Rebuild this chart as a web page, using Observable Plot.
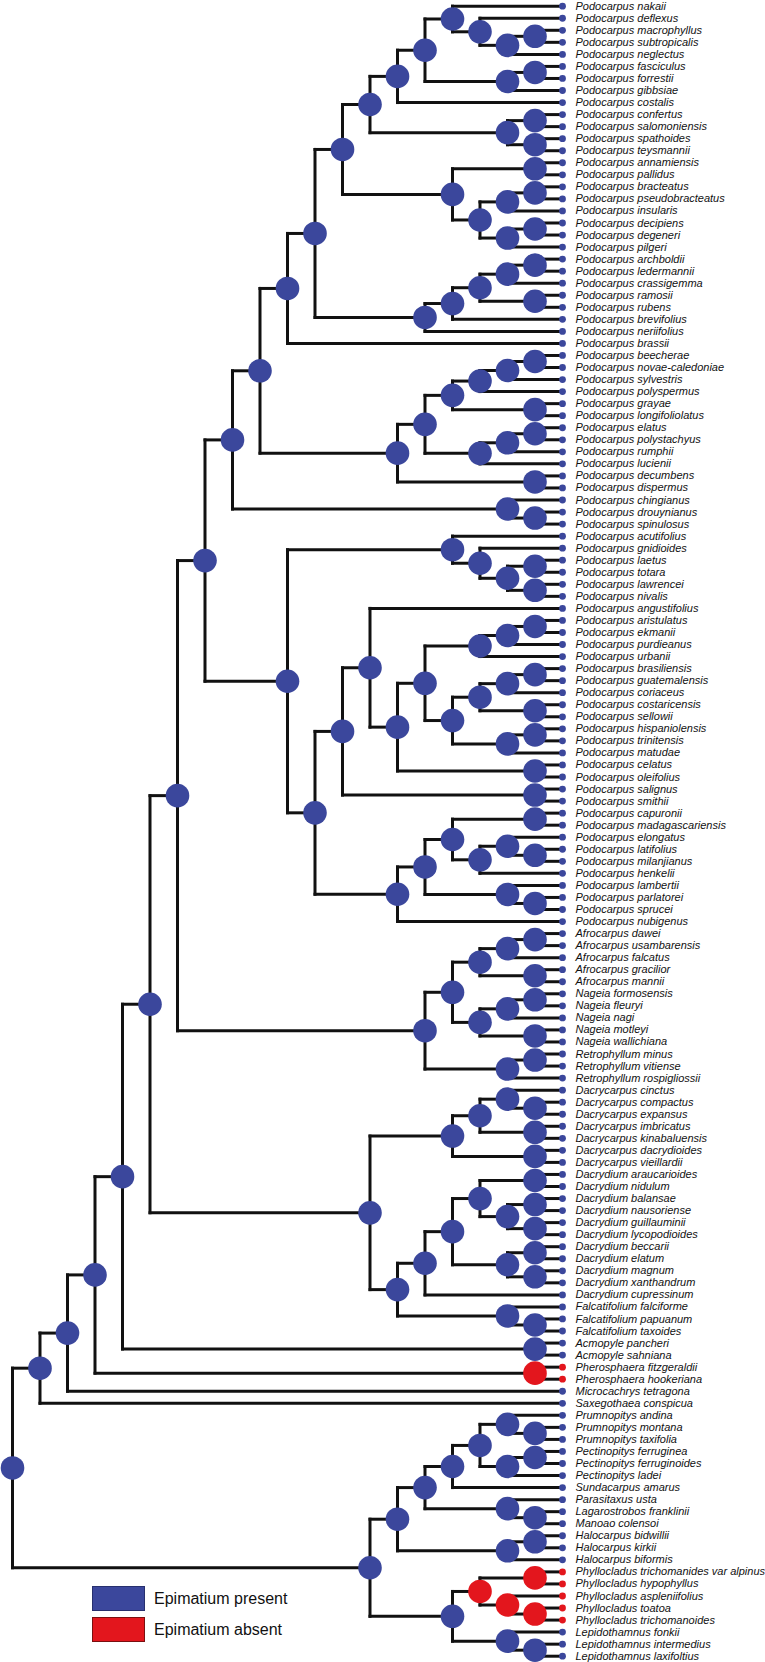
<!DOCTYPE html>
<html><head><meta charset="utf-8">
<script src="https://cdn.jsdelivr.net/npm/d3@7"></script>
<script src="https://cdn.jsdelivr.net/npm/@observablehq/plot@0.6"></script>
<style>
body{margin:0;background:#fff;}
#wrap{position:relative;width:765px;height:1662px;font-family:"Liberation Sans",Arial,sans-serif;}
.legend{position:absolute;left:92px;top:1586px;}
.item{display:flex;align-items:center;height:25px;margin-bottom:6px;}
.sw{width:53px;height:25px;box-sizing:border-box;margin-right:9px;border:1.5px solid;}
.lab{font-size:16px;color:#111;}
</style></head><body><div id="wrap"></div>
<script>
// ---- data: tree topology (Newick clades, tip order top to bottom) ----
const cladeNakaii = "((Podocarpus_nakaii,(Podocarpus_deflexus,((Podocarpus_macrophyllus,Podocarpus_subtropicalis),Podocarpus_neglectus))),((Podocarpus_fasciculus,Podocarpus_forrestii),Podocarpus_gibbsiae))";
const cladeConfertus = "((Podocarpus_confertus,Podocarpus_salomoniensis),(Podocarpus_spathoides,Podocarpus_teysmannii))";
const cladeAnnamiensis = "((Podocarpus_annamiensis,Podocarpus_pallidus),(((Podocarpus_bracteatus,Podocarpus_pseudobracteatus),Podocarpus_insularis),((Podocarpus_decipiens,Podocarpus_degeneri),Podocarpus_pilgeri)))";
const cladeArchboldii = "(((((Podocarpus_archboldii,Podocarpus_ledermannii),Podocarpus_crassigemma),(Podocarpus_ramosii,Podocarpus_rubens)),Podocarpus_brevifolius),Podocarpus_neriifolius)";
const cladeBeecherae = "((((((Podocarpus_beecherae,Podocarpus_novae-caledoniae),Podocarpus_sylvestris),Podocarpus_polyspermus),(Podocarpus_grayae,Podocarpus_longifoliolatus)),(((Podocarpus_elatus,Podocarpus_polystachyus),Podocarpus_rumphii),Podocarpus_lucienii)),(Podocarpus_decumbens,Podocarpus_dispermus))";
const cladeChingianus = "(Podocarpus_chingianus,(Podocarpus_drouynianus,Podocarpus_spinulosus))";
const cladeAcutifolius = "(Podocarpus_acutifolius,(Podocarpus_gnidioides,((Podocarpus_laetus,Podocarpus_totara),(Podocarpus_lawrencei,Podocarpus_nivalis))))";
const cladeAristulatus = "(((Podocarpus_aristulatus,Podocarpus_ekmanii),Podocarpus_purdieanus),Podocarpus_urbanii)";
const cladeBrasiliensis = "((((Podocarpus_brasiliensis,Podocarpus_guatemalensis),Podocarpus_coriaceus),(Podocarpus_costaricensis,Podocarpus_sellowii)),((Podocarpus_hispaniolensis,Podocarpus_trinitensis),Podocarpus_matudae))";
const cladeCapuronii = "((((Podocarpus_capuronii,Podocarpus_madagascariensis),((Podocarpus_elongatus,(Podocarpus_latifolius,Podocarpus_milanjianus)),Podocarpus_henkelii)),(Podocarpus_lambertii,(Podocarpus_parlatorei,Podocarpus_sprucei))),Podocarpus_nubigenus)";
const cladeAfrocarpus = "(((((Afrocarpus_dawei,Afrocarpus_usambarensis),Afrocarpus_falcatus),(Afrocarpus_gracilior,Afrocarpus_mannii)),(((Nageia_formosensis,Nageia_fleuryi),Nageia_nagi),(Nageia_motleyi,Nageia_wallichiana))),((Retrophyllum_minus,Retrophyllum_vitiense),Retrophyllum_rospigliossii))";
const cladeDacrycarpus = "(((Dacrycarpus_cinctus,(Dacrycarpus_compactus,Dacrycarpus_expansus)),(Dacrycarpus_imbricatus,Dacrycarpus_kinabaluensis)),(Dacrycarpus_dacrydioides,Dacrycarpus_vieillardii))";
const cladeDacrydium = "(((((Dacrydium_araucarioides,Dacrydium_nidulum),((Dacrydium_balansae,Dacrydium_nausoriense),(Dacrydium_guillauminii,Dacrydium_lycopodioides))),((Dacrydium_beccarii,Dacrydium_elatum),(Dacrydium_magnum,Dacrydium_xanthandrum))),Dacrydium_cupressinum),(Falcatifolium_falciforme,(Falcatifolium_papuanum,Falcatifolium_taxoides)))";
const cladePrumnopitys = "((((((Prumnopitys_andina,(Prumnopitys_montana,Prumnopitys_taxifolia)),((Pectinopitys_ferruginea,Pectinopitys_ferruginoides),Pectinopitys_ladei)),Sundacarpus_amarus),(Parasitaxus_usta,(Lagarostrobos_franklinii,Manoao_colensoi))),((Halocarpus_bidwillii,Halocarpus_kirkii),Halocarpus_biformis)),(((Phyllocladus_trichomanides_var_alpinus,Phyllocladus_hypophyllus),(Phyllocladus_aspleniifolius,(Phyllocladus_toatoa,Phyllocladus_trichomanoides))),(Lepidothamnus_fonkii,(Lepidothamnus_intermedius,Lepidothamnus_laxifoltius))))";

// taxa lacking an epimatium
const absentTaxa = ["Pherosphaera fitzgeraldii","Pherosphaera hookeriana",
  "Phyllocladus trichomanides var alpinus","Phyllocladus hypophyllus",
  "Phyllocladus aspleniifolius","Phyllocladus toatoa","Phyllocladus trichomanoides"];
const legendLabels = ["Epimatium present","Epimatium absent"];
const colors = {present:"#3B479C", absent:"#E3161D"};

// ---- assemble ----
const j = (...k) => "(" + k.join(",") + ")";
const podoA = j(j(j(j(j(j(j(cladeNakaii,"Podocarpus_costalis"),cladeConfertus),cladeAnnamiensis),cladeArchboldii),"Podocarpus_brassii"),cladeBeecherae),cladeChingianus);
const podoB = j(cladeAcutifolius, j(j(j("Podocarpus_angustifolius", j(j(cladeAristulatus,cladeBrasiliensis),"(Podocarpus_celatus,Podocarpus_oleifolius)")),"(Podocarpus_salignus,Podocarpus_smithii)"),cladeCapuronii));
const core = j(j(j(podoA,podoB),cladeAfrocarpus), j(cladeDacrycarpus,cladeDacrydium));
const newick = j(j(j(j(j(core,"(Acmopyle_pancheri,Acmopyle_sahniana)"),"(Pherosphaera_fitzgeraldii,Pherosphaera_hookeriana)"),"Microcachrys_tetragona"),"Saxegothaea_conspicua"), cladePrumnopitys) + ";";

function parseNewick(s){
  let i = 0;
  function node(){
    if (s[i] === "("){
      i++; const children = [node()];
      while (s[i] === ","){ i++; children.push(node()); }
      if (s[i] !== ")") throw new Error("bad newick at " + i);
      i++; return {children};
    }
    const st = i;
    while (i < s.length && !"(),;".includes(s[i])) i++;
    return {name: s.slice(st, i).replace(/_/g, " ")};
  }
  return node();
}
const root = parseNewick(newick);
const tips = [], nodes = [], edges = [];
(function lay(n){
  if (!n.children){ n.y = tips.length; n.h = 0; n.absent = absentTaxa.includes(n.name); tips.push(n); return; }
  n.children.forEach(lay);
  n.h = 1 + d3.max(n.children, c => c.h);
  const a = n.children[0], b = n.children[n.children.length-1];
  n.y = (a.y + b.y) / 2;
  n.absent = n.children.every(c => c.absent);
  nodes.push(n);
  edges.push({x1:n.h, x2:n.h, y1:a.y, y2:b.y});
  n.children.forEach(c => edges.push({x1:n.h, x2:c.h, y1:c.y, y2:c.y}));
})(root);
const col = d => d.absent ? colors.absent : colors.present;

const chart = Plot.plot({
  width: 765, height: 1662,
  marginTop: 0, marginRight: 0, marginBottom: 0, marginLeft: 0,
  x: {domain: [root.h, 0], range: [12, 562], axis: null},
  y: {domain: [0, tips.length - 1], range: [5.7, 1655.7], axis: null},
  color: {type: "identity"},
  style: {fontFamily: "'Liberation Sans', Arial, sans-serif", background: "#fff", overflow: "visible"},
  marks: [
    Plot.link(edges, {x1:"x1", y1:"y1", x2:"x2", y2:"y2", stroke:"#111", strokeWidth:3, strokeLinecap:"square"}),
    Plot.dot(nodes, {x:"h", y:"y", r:11.8, fill:col, stroke:"none"}),
    Plot.dot(tips, {x:"h", y:"y", r:3.4, fill:col, stroke:"none"}),
    Plot.text(tips, {x:"h", y:"y", text:"name", dx:13, textAnchor:"start", fontSize:11, fontStyle:"italic", fill:"#111"})
  ]
});
const wrap = document.getElementById("wrap");
wrap.appendChild(chart);
const leg = document.createElement("div");
leg.className = "legend";
[["present", legendLabels[0], "#27306e"], ["absent", legendLabels[1], "#7a1010"]].forEach(([k, label, border]) => {
  const it = document.createElement("div"); it.className = "item";
  const sw = document.createElement("div"); sw.className = "sw";
  sw.style.background = colors[k]; sw.style.borderColor = border;
  const lb = document.createElement("span"); lb.className = "lab"; lb.textContent = label;
  it.appendChild(sw); it.appendChild(lb); leg.appendChild(it);
});
wrap.appendChild(leg);
</script></body></html>
